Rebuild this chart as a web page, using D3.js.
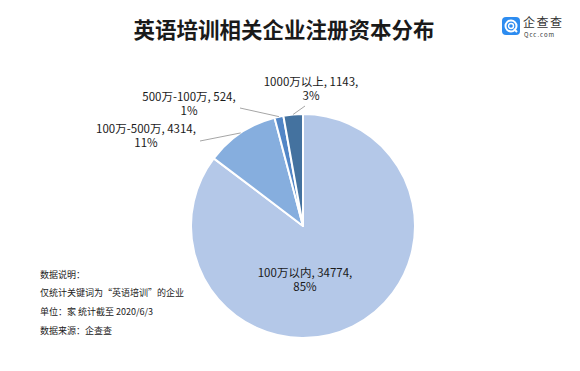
<!DOCTYPE html>
<html><head><meta charset="utf-8">
<script src="https://cdn.jsdelivr.net/npm/d3@7"></script>
<style>body{margin:0;background:#fff}svg{display:block}text{font-family:"Noto Sans CJK SC","Noto Sans",sans-serif}</style>
</head><body>
<svg id="c" width="580" height="371"></svg>
<script>
const categories = ["100万以内", "100万-500万", "500万-100万", "1000万以上"];
const values = [34774, 4314, 524, 1143];
const percents = ["85%", "11%", "1%", "3%"];
const colors = ["#b4c8e8", "#86aede", "#5286c6", "#44729f"];
const notes = ["数据说明：", "仅统计关键词为“英语培训”的企业", "单位：家  统计截至 2020/6/3", "数据来源：企查查"];

const svg = d3.select("#c");
const cx = 303, cy = 226, R = 112;

svg.append("text").attr("x", 284).attr("y", 38).attr("text-anchor", "middle")
  .attr("font-size", 21.5).attr("font-weight", "bold").attr("fill", "#1a1a1a")
  .text("英语培训相关企业注册资本分布");

// logo
const lg = svg.append("g").attr("transform", "translate(502,17)");
lg.append("rect").attr("width", 18).attr("height", 18).attr("rx", 4).attr("fill", "#2d8cf0");
lg.append("circle").attr("cx", 9).attr("cy", 9).attr("r", 5.5).attr("fill", "none").attr("stroke", "#fff").attr("stroke-width", 2);
lg.append("circle").attr("cx", 9).attr("cy", 9).attr("r", 2.5).attr("fill", "none").attr("stroke", "#fff").attr("stroke-width", 1.4);
lg.append("line").attr("x1", 12).attr("y1", 12).attr("x2", 15).attr("y2", 15).attr("stroke", "#fff").attr("stroke-width", 2);
svg.append("text").attr("x", 523).attr("y", 27).attr("font-size", 12).attr("fill", "#333").attr("letter-spacing", 1.5).text("企查查");
svg.append("text").attr("x", 524).attr("y", 36.5).attr("font-size", 6).attr("fill", "#333").attr("letter-spacing", 1).text("Qcc.com");

const data = categories.map((c, i) => ({c, v: values[i], p: percents[i], col: colors[i]}));
const pie = d3.pie().value(d => d.v).sort(null).startAngle(0).endAngle(2 * Math.PI);
const arcs = pie(data);
const arc = d3.arc().innerRadius(0).outerRadius(R);

const g = svg.append("g").attr("transform", `translate(${cx},${cy})`);
g.selectAll("path").data(arcs).join("path")
  .attr("d", arc).attr("fill", d => d.data.col)
  .attr("stroke", "#fff").attr("stroke-width", 2).attr("stroke-linejoin", "round");

// label layout (offsets relative to center)
const labelPos = [
  {dx: 2, dy: 51, inside: true},
  {dx: -157, dy: -93, lx: -103, ly: -85},
  {dx: -114, dy: -125, lx: -63, ly: -118},
  {dx: 8, dy: -140, lx: 2, ly: -120}
];
arcs.forEach((a, i) => {
  const lp = labelPos[i];
  const mid = (a.startAngle + a.endAngle) / 2;
  if (!lp.inside) {
    const px = Math.sin(mid) * R, py = -Math.cos(mid) * R;
    g.append("line").attr("x1", px).attr("y1", py).attr("x2", lp.lx).attr("y2", lp.ly)
      .attr("stroke", "#a6a6a6").attr("stroke-width", 1);
  }
  const t = g.append("text").attr("text-anchor", "middle").attr("font-size", 11.5).attr("fill", "#1a1a1a");
  t.append("tspan").attr("x", lp.dx).attr("y", lp.dy).text(`${a.data.c}, ${a.data.v},`);
  t.append("tspan").attr("x", lp.dx).attr("y", lp.dy + 14).text(a.data.p);
});

svg.append("g").selectAll("text").data(notes).join("text")
  .attr("x", 40).attr("y", (d, i) => 277.5 + i * 18.8)
  .attr("font-size", 9).attr("fill", "#222").text(d => d);
</script>
</body></html>
